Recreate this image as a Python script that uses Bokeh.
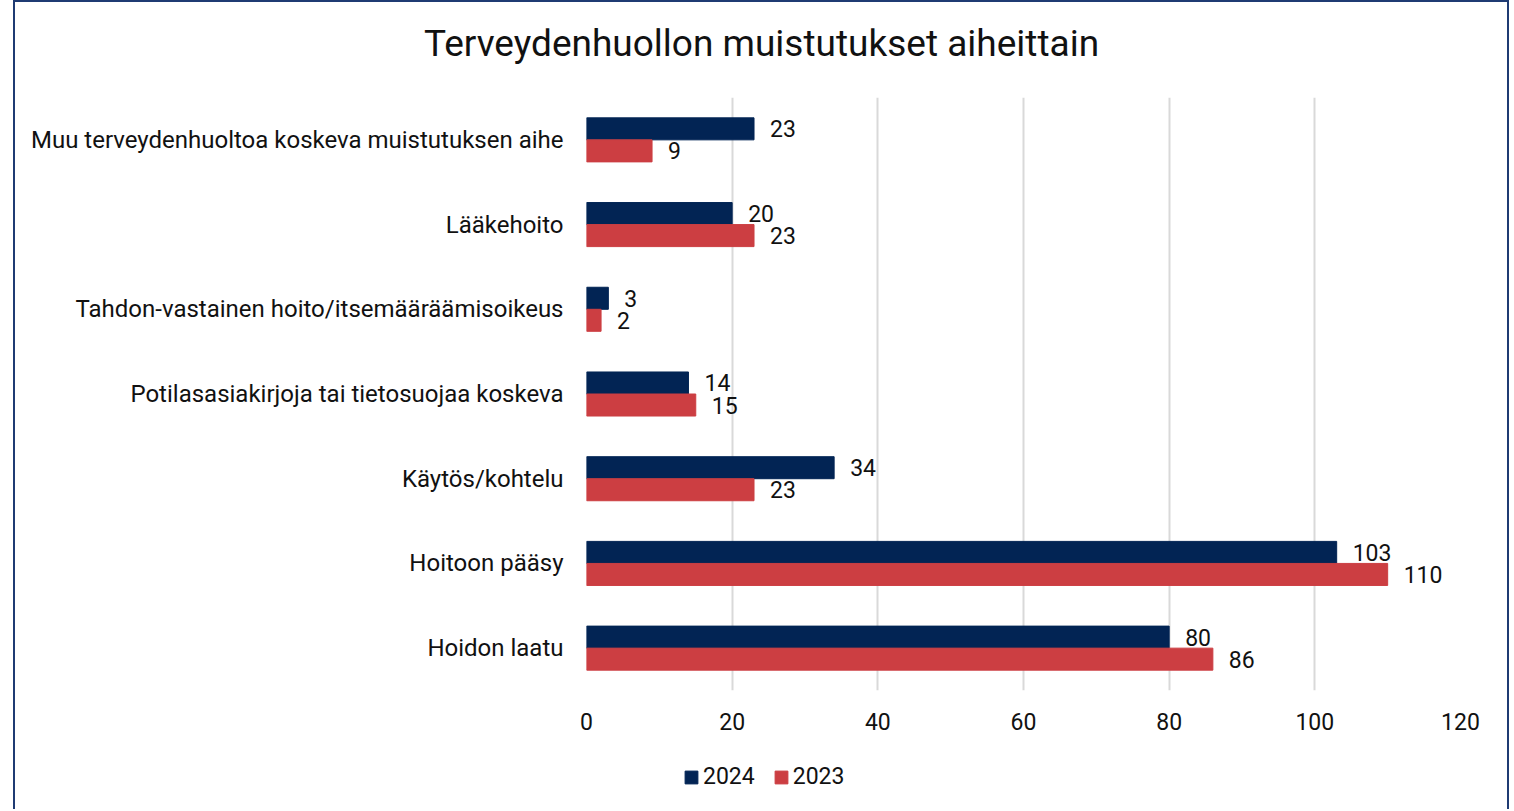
from bokeh.plotting import figure
from bokeh.layouts import column
from bokeh.models import (FactorRange, Range1d, ColumnDataSource, Legend, LegendItem,
                          FixedTicker)
from bokeh.transform import dodge
from bokeh.core.properties import value
from bokeh.embed import file_html
from bokeh.resources import INLINE

title_text = "Terveydenhuollon muistutukset aiheittain"
categories = [
    "Muu terveydenhuoltoa koskeva muistutuksen aihe",
    "Lääkehoito",
    "Tahdon-vastainen hoito/itsemääräämisoikeus",
    "Potilasasiakirjoja tai tietosuojaa koskeva",
    "Käytös/kohtelu",
    "Hoitoon pääsy",
    "Hoidon laatu",
]
values_2024 = [23, 20, 3, 14, 34, 103, 80]
values_2023 = [9, 23, 2, 15, 23, 110, 86]
series_names = ["2024", "2023"]
x_ticks = [0, 20, 40, 60, 80, 100, 120]

NAVY = "#022454"
RED = "#CC3E42"
TXT = "#111111"
BORDER = "#1F3B73"
FONT = "Roboto"
FS = "23px"
W = 1496


def side_styles(top=False):
    st = {
        "margin-left": "13px",
        "border-left": f"2px solid {BORDER}",
        "border-right": f"2px solid {BORDER}",
    }
    if top:
        st["border-top"] = f"2px solid {BORDER}"
    return st


def blank_fig(h):
    f = figure(width=W, height=h, x_range=Range1d(0, W), y_range=Range1d(0, h),
               x_axis_type=None, y_axis_type=None, output_backend="svg",
               toolbar_location=None, min_border=0)
    f.grid.visible = False
    f.outline_line_color = None
    f.frame_align = False
    return f


# ---- title strip ----
H0 = 97
p0 = blank_fig(H0)
p0.styles = side_styles(top=True)
p0.text(x=[W / 2 - 2], y=[H0 - 41], text=[title_text], text_align="center",
        text_baseline="middle", text_font=value(FONT), text_font_size=value("37px"),
        text_color=TXT)

# ---- main chart ----
src = ColumnDataSource(dict(
    cat=categories,
    v24=values_2024,
    v23=values_2023,
    l24=[str(v) for v in values_2024],
    l23=[str(v) for v in values_2023],
))

H1 = 646
p = figure(width=W, height=H1,
           y_range=FactorRange(*list(reversed(categories))),
           x_range=Range1d(x_ticks[0], x_ticks[-1]),
           output_backend="svg", toolbar_location=None,
           min_border_left=571, min_border_right=W - 571 - 874,
           min_border_top=0, min_border_bottom=53)
p.styles = side_styles()
p.outline_line_color = None
p.frame_align = False

bh = 0.26
r24 = p.hbar(y=dodge("cat", bh / 2, range=p.y_range), left=0, right="v24", height=bh,
             fill_color=NAVY, line_color=NAVY, source=src)
r23 = p.hbar(y=dodge("cat", -bh / 2, range=p.y_range), left=0, right="v23", height=bh,
             fill_color=RED, line_color=RED, source=src)

p.text(x="v24", y=dodge("cat", bh / 2, range=p.y_range), text="l24", source=src,
       x_offset=16, text_baseline="middle", text_align="left",
       text_font=value(FONT), text_font_size=value(FS), text_color=TXT)
p.text(x="v23", y=dodge("cat", -bh / 2, range=p.y_range), text="l23", source=src,
       x_offset=16, text_baseline="middle", text_align="left",
       text_font=value(FONT), text_font_size=value(FS), text_color=TXT)

p.xgrid.grid_line_color = "#D9D9D9"
p.xgrid.grid_line_width = 2
p.ygrid.grid_line_color = None
p.xaxis.ticker = FixedTicker(ticks=x_ticks)

for ax in (p.xaxis[0], p.yaxis[0]):
    ax.axis_line_color = None
    ax.major_tick_line_color = None
    ax.minor_tick_line_color = None
    ax.major_tick_out = 0
    ax.major_tick_in = 0
    ax.major_label_text_font = FONT
    ax.major_label_text_color = TXT
p.xaxis.major_label_text_font_size = FS
p.yaxis.major_label_text_font_size = "24px"
p.xaxis.major_label_standoff = 22
p.yaxis.major_label_standoff = 23

# ---- legend strip ----
H2 = 66
p2 = blank_fig(H2)
p2.styles = side_styles()
g24 = p2.hbar(y=[0], left=[0], right=[0], height=1, fill_color=NAVY, line_color=NAVY,
              visible=False)
g23 = p2.hbar(y=[0], left=[0], right=[0], height=1, fill_color=RED, line_color=RED,
              visible=False)
legend = Legend(items=[LegendItem(label=series_names[0], renderers=[g24]),
                       LegendItem(label=series_names[1], renderers=[g23])],
                orientation="horizontal", location=(668, 19),
                glyph_width=16, glyph_height=16, label_standoff=4, spacing=18,
                padding=0, margin=0, border_line_color=None, background_fill_alpha=0,
                inactive_fill_alpha=0,
                label_text_font=FONT, label_text_font_size=FS, label_text_color=TXT)
p2.add_layout(legend, "center")

layout = column(p0, p, p2, spacing=0)
open("out.html", "w").write(file_html(layout, INLINE))
